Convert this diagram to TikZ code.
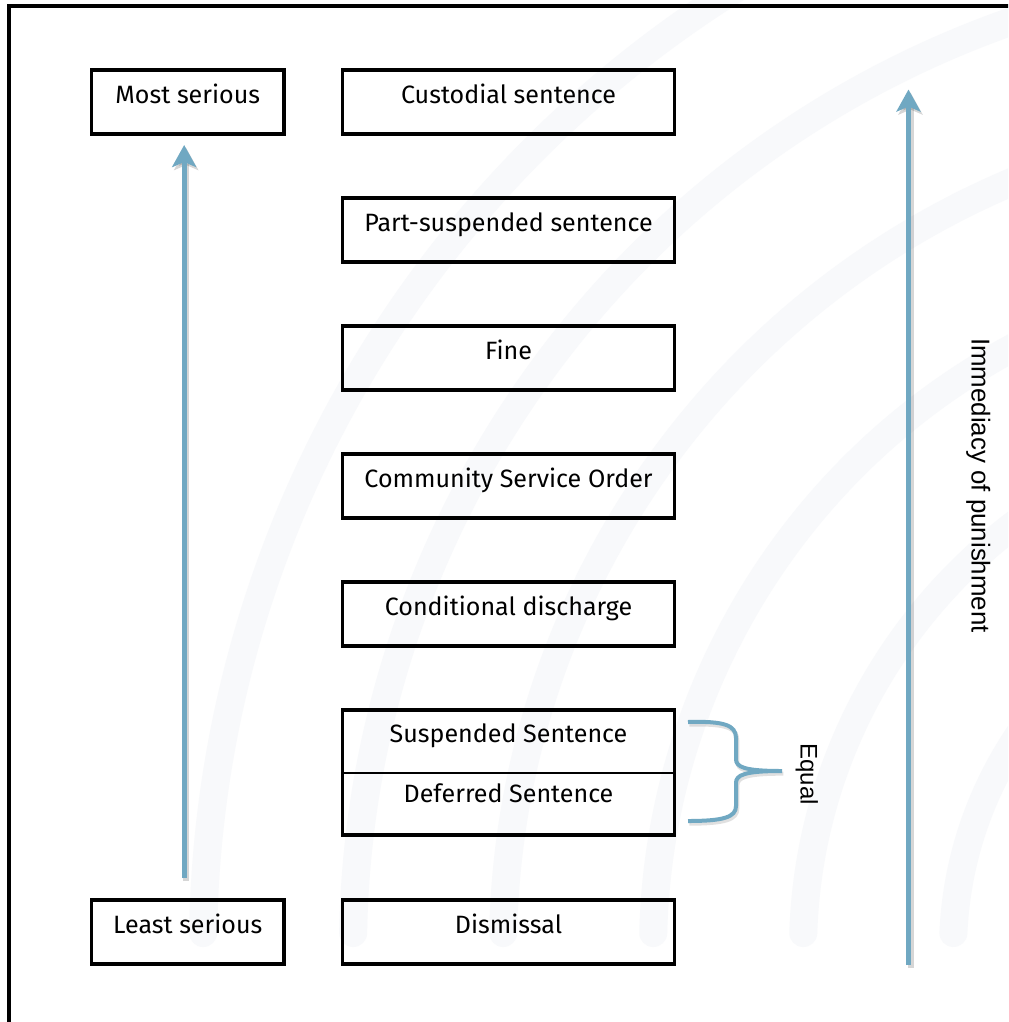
\documentclass[tikz,border=0pt]{standalone}
\usepackage{fontspec}
\setmainfont{Fira Sans}
\newfontfamily\rotfont{Liberation Sans}
\usetikzlibrary{arrows.meta,calc}
\definecolor{arrowblue}{RGB}{112,168,194}
\definecolor{wmark}{RGB}{248,249,251}
\begin{document}
\begin{tikzpicture}[x=0.75pt,y=-0.75pt,
  cell/.style={inner xsep=0pt, inner ysep=0pt, outer sep=0pt, anchor=north west,
    font=\fontsize{18.8}{22}\selectfont},
  box/.style={cell, draw, line width=2.5pt, minimum height=48pt,
    text height=24.75pt, text depth=23.25pt},
  midbox/.style={box, minimum width=248.9pt},
  sidebox/.style={box, minimum width=144.4pt},
  arr/.style={draw=arrowblue, line width=3.75pt,
    -{Stealth[length=16.5pt,width=18pt,inset=3.75pt]}},
  arrshadow/.style={draw=black, opacity=0.16, line width=4.5pt,
    -{Stealth[length=16.5pt,width=18pt,inset=3.75pt]},
    transform canvas={xshift=1.5pt,yshift=-2.25pt}},
  bracestyle/.style={draw=arrowblue, line width=3pt},
  rotlabel/.style={rotate=-90, anchor=base, inner sep=0pt}
]
\useasboundingbox (0,0) rectangle (1008,1022);
\fill[white] (0,0) rectangle (1008,1022);

% faint watermark arcs
\begin{scope}
  \clip (0,0) rectangle (1008,1022);
  \foreach \r in {384,534,684,834,984,1134} {
    \pgfmathsetmacro\a{180+asin(17/\r)}
    \draw[wmark, line width=21pt, line cap=round]
      ([shift={(1337,950)}]\a:\r) arc[start angle=\a, end angle=275, radius=\r];
  }
  % outer frame
  \draw[line width=3pt] (8.5,1040) -- (8.5,5.5) -- (1040,5.5);
\end{scope}

% side boxes
\node[sidebox] (most)  at (91.5,70)  {Most serious};
\node[sidebox] (least) at (91.5,900) {Least serious};

% middle column
\node[midbox] (cust)  at (342.6,70)  {Custodial sentence};
\node[midbox] (part)  at (342.6,198) {Part-suspended sentence};
\node[midbox] (fine)  at (342.6,326) {Fine};
\node[midbox] (cso)   at (342.6,454) {Community Service Order};
\node[midbox] (cond)  at (342.6,582) {Conditional discharge};
\node[cell, minimum width=248.9pt, text height=24pt, text depth=23.25pt] (susp) at (342.6,710) {Suspended Sentence};
\node[cell, minimum width=248.9pt, text height=21.75pt, text depth=24.75pt] (defer) at (342.6,773) {Deferred Sentence};
\draw[line width=2.5pt] (susp.north west) rectangle (defer.south east);
\draw[line width=1.5pt] (susp.south west) -- (susp.south east);
\node[midbox] (dism)  at (342.6,900) {Dismissal};

% left arrow
\draw[arrshadow] ([xshift=-2.7pt,yshift=16.5pt]least.north) -- ([xshift=-2.7pt,yshift=-8.25pt]most.south);
\draw[arr] ([xshift=-2.7pt,yshift=16.5pt]least.north) -- ([xshift=-2.7pt,yshift=-8.25pt]most.south);

% right arrow
\coordinate (rb) at (908.5,965);
\coordinate (rt) at (908.5,89.5);
\draw[arrshadow] (rb) -- (rt);
\draw[arr] (rb) -- (rt);

% brace
\draw[bracestyle, draw=black, opacity=0.12, transform canvas={xshift=1pt,yshift=-2pt}]
  (688,722) .. controls (724,721) and (736,725) .. (736,738) -- (736,759)
  .. controls (736,767) and (744,771) .. (782,771)
  .. controls (744,771) and (736,775) .. (736,783) -- (736,806)
  .. controls (736,817) and (724,821) .. (688,821);
\draw[bracestyle]
  (688,722) .. controls (724,721) and (736,725) .. (736,738) -- (736,759)
  .. controls (736,767) and (744,771) .. (782,771)
  .. controls (744,771) and (736,775) .. (736,783) -- (736,806)
  .. controls (736,817) and (724,821) .. (688,821);

% rotated labels
\node[rotlabel, font=\rotfont\fontsize{18}{20}\selectfont] (equal) at (800.7,774) {Equal};
\node[rotlabel, font=\rotfont\fontsize{19.4}{22}\selectfont] (imm) at (971.7,485.5) {Immediacy of punishment};
\end{tikzpicture}
\end{document}
